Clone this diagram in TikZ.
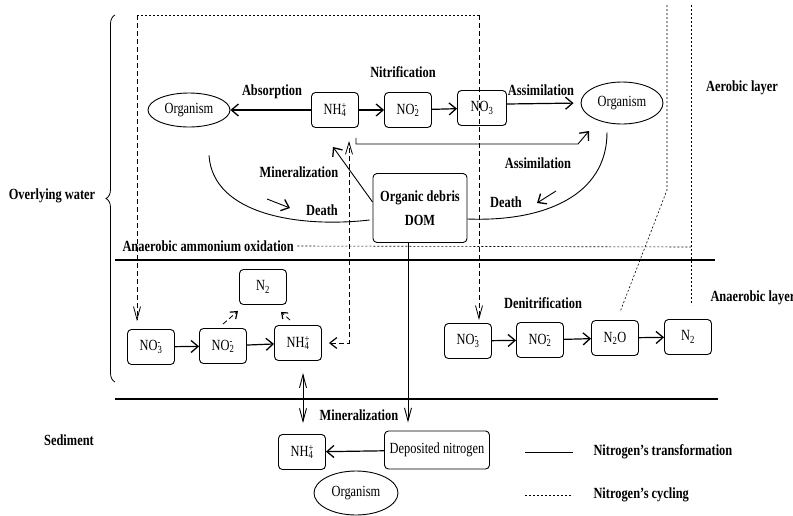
\documentclass[tikz,border=0pt]{standalone}
\usepackage{fontspec}
\setmainfont[FakeStretch=0.8]{Liberation Serif}
\usetikzlibrary{shapes.geometric,arrows.meta,decorations.pathreplacing,calc}
\newcommand{\chemf}[3]{#1\rlap{\textsuperscript{#3}}\textsubscript{#2}}
\begin{document}
\begin{tikzpicture}[x=1pt, y=-1pt,
    font=\fontsize{15.5pt}{18pt}\selectfont,
    box/.style={draw, rounded corners=4pt, line width=0.9pt, minimum width=47pt, minimum height=35pt, inner sep=2pt},
    org/.style={draw, ellipse, line width=0.9pt, inner sep=0pt},
    lbl/.style={font=\fontsize{15.5pt}{18pt}\selectfont\bfseries},
    trf/.style={line width=1.2pt, -{Straight Barb[length=7pt,width=12pt,line width=1.3pt]}},
    vtip/.style={line width=0.9pt},
    cyc/.style={dash pattern=on 5pt off 3pt, line width=0.8pt},
    cycf/.style={dash pattern=on 2pt off 2pt, line width=0.6pt},
    layer/.style={line width=2.8pt}]
    \useasboundingbox (0,0) rectangle (793,515);
    \draw[layer] (115,260) -- (715,260);
    \draw[layer] (115,399) -- (718,399);
    \draw[decorate, decoration={brace, amplitude=9pt}, line width=0.8pt] (115,382) -- (115,15);
    \node[lbl] (ow) at (52,196) {Overlying water};
    \node[lbl] (aer) at (742,88) {Aerobic layer};
    \node[lbl, anchor=west] (ana) at (707,298) {Anaerobic layer};
    \node[lbl] (sed) at (69,440) {Sediment};
    % aerobic layer
    \node[org, minimum width=82pt, minimum height=34pt] (orgl) at (189,110) {Organism};
    \node[box] (nh4a) at (335,110) {\chemf{NH}{4}{+}};
    \node[box] (no2u) at (408,110) {\chemf{NO}{2}{-}};
    \node[box, minimum width=49pt] (no3u) at (482,108) {NO\textsubscript{3}};
    \node[org, minimum width=82pt, minimum height=42pt] (orgr) at (622,103) {Organism};
    \node[box, lbl, minimum width=94pt, minimum height=69pt, align=center] (dom) at (420,208) {Organic debris\\[6pt]DOM};
    \node[lbl] (absl) at (272,92) {Absorption};
    \node[lbl] (nitl) at (403,72) {Nitrification};
    \node[lbl] (asl1) at (541,90) {Assimilation};
    \node[lbl] (asl2) at (538,163) {Assimilation};
    \node[lbl] (minl1) at (299,172) {Mineralization};
    \node[lbl] (dthl) at (322,210) {Death};
    \node[lbl] (dthr) at (506,202) {Death};
    \node[lbl, anchor=west] (amx) at (119,246) {Anaerobic ammonium oxidation};
    % anaerobic layer
    \node[box] (n2a) at (263,287) {N\textsubscript{2}};
    \node[box] (no3a) at (151,347) {\chemf{NO}{3}{-}};
    \node[box] (no2a) at (223,346) {\chemf{NO}{2}{-}};
    \node[box] (nh4b) at (298,343) {\chemf{NH}{4}{+}};
    \node[lbl] (denl) at (543,303) {Denitrification};
    \node[box] (no3b) at (468,341) {\chemf{NO}{3}{-}};
    \node[box] (no2b) at (540,340) {\chemf{NO}{2}{-}};
    \node[box] (n2o) at (615,338) {N\textsubscript{2}O};
    \node[box] (n2b) at (688,337) {N\textsubscript{2}};
    % sediment
    \node[lbl] (minl2) at (359,415) {Mineralization};
    \node[box] (nh4c) at (302,452) {\chemf{NH}{4}{+}};
    \node[box, minimum width=105pt, minimum height=38pt] (dep) at (437,450) {Deposited nitrogen};
    \node[org, minimum width=84pt, minimum height=44pt] (orgs) at (356,493) {Organism};
    \node[lbl, anchor=west] (legt) at (590,452) {Nitrogen's transformation};
    \node[lbl, anchor=west] (legc) at (590,495) {Nitrogen's cycling};
    \draw[line width=1pt] ($(legt.west)+(-65,0)$) -- ($(legt.west)+(-17,0)$);
    \draw[cycf] ($(legc.west)+(-65,0)$) -- ($(legc.west)+(-17,0)$);
    % transformations
    \draw[trf] (nh4a) -- (orgl);
    \draw[trf] (nh4a) -- (no2u);
    \draw[trf] (no2u) -- (no3u);
    \draw[trf, shorten >=7pt] ($(no3u.east)+(0,-4)$) -- (orgr.west);
    \draw[trf, line width=0.9pt] ($(nh4a.south east)+(-3,10)$) |- (578,144) -- (589,131);
    \draw[trf, line width=0.9pt] ($(dom.west)+(0,-6)$) -- ($(nh4a.south)+(-2,19)$);
    \draw[line width=0.9pt] ($(orgl.south)+(20,28)$) .. controls (213,215) and (300,228) .. ($(dom.west)+(-3,12)$);
    \draw[trf, line width=0.9pt] (267,199) -- (290,208);
    \draw[line width=0.9pt] ($(orgr.south)+(-15,8)$) .. controls (607,195) and (545,222) .. ($(dom.east)+(0,11)$);
    \draw[trf, line width=0.9pt] (556,191) -- (537,203);
    \draw[trf] (no3a) -- (no2a);
    \draw[trf] (no2a) -- (nh4b);
    \draw[trf] (no3b) -- (no2b);
    \draw[trf] (no2b) -- (n2o);
    \draw[trf] (n2o) -- (n2b);
    \draw[trf] (dep) -- (nh4c);
    \coordinate (dd) at ($(dom.south)+(-12,0)$);
    \draw[vtip, -{Straight Barb[length=13pt,width=7pt]}, shorten >=8pt] (dd) -- (dd |- dep.north);
    \draw[vtip, {Straight Barb[length=13pt,width=7pt]}-{Straight Barb[length=13pt,width=7pt]}] ($(nh4c.north)+(1,-61)$) -- ($(nh4c.north)+(1,-11)$);
    % cycling
    \coordinate (cl) at (137,15);
    \coordinate (cr) at (479,15);
    \coordinate (cm) at (349,343);
    \draw[cyc, -{Straight Barb[length=13pt,width=7pt]}] (cl) -- ($(cl |- no3a.north)+(0,-8)$);
    \draw[cycf] (cl) -- (cr);
    \draw[cyc, -{Straight Barb[length=13pt,width=7pt]}] (cr) -- ($(cr |- no3b.north)+(0,-3)$);
    \draw[cyc, {Straight Barb[length=7pt,width=11pt,line width=1.2pt]}-{Straight Barb[length=12pt,width=7pt]}] ($(nh4b.east)+(7,0)$) -- (cm) -- ($(cm |- nh4a.south)+(0,13)$);
    \draw[cyc, -{Straight Barb[length=6pt,width=9pt,line width=1.2pt]}] ($(no2a.north)+(0,-4)$) -- ($(n2a.south)+(-25,6)$);
    \draw[cyc, -{Straight Barb[length=5pt,width=8pt,line width=1.2pt]}] ($(nh4b.north)+(-8,-5)$) -- ($(n2a.south)+(18,7)$);
    \draw[cycf] (667,5) -- (667,190) -- ($(n2o.north)+(5,-8)$);
    \draw[cycf] (691,5) -- (691,305);
    \draw[cycf] (amx.east) -- (691,247);
\end{tikzpicture}
\end{document}
